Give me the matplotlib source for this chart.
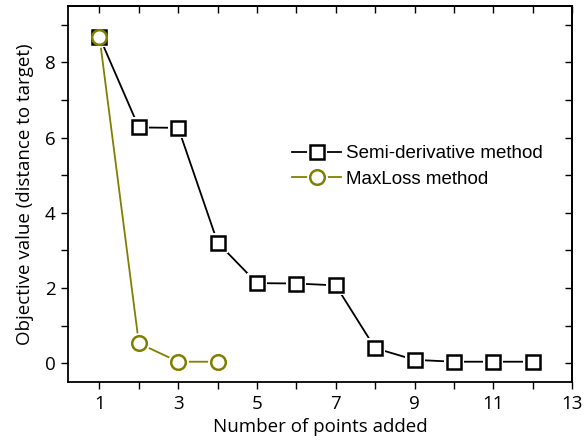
import matplotlib
matplotlib.use('Agg')
import matplotlib.pyplot as plt
from matplotlib.ticker import MultipleLocator
from matplotlib.lines import Line2D
from matplotlib.legend_handler import HandlerTuple

# Valores da função objetivo por número de pontos adicionados
pontos_semi = [1, 2, 3, 4, 5, 6, 7, 8, 9, 10, 11, 12]
valores_semi = [8.68, 6.27, 6.26, 3.21, 2.13, 2.12, 2.07, 0.40, 0.09, 0.04, 0.04, 0.04]

pontos_maxloss = [1, 2, 3, 4]
valores_maxloss = [8.68, 0.53, 0.04, 0.04]

rotulo_semi = 'Semi-derivative method'
rotulo_maxloss = 'MaxLoss method'

cor_semi = 'black'
cor_maxloss = '#808000'

fig = plt.figure(figsize=(5.84, 4.42), dpi=100)
ax = fig.add_axes([0.1164, 0.1357, 0.8631, 0.8507])

def serie(x, y, cor, marcador):
    # linha com pequena folga em volta dos marcadores
    ax.plot(x, y, '-', color=cor, lw=1.3, zorder=2)
    ax.plot(x, y, linestyle='none', marker=marcador, ms=15, mfc='white', mec='white', mew=0, zorder=3)
    ax.plot(x, y, linestyle='none', marker=marcador, ms=10.5, mfc='white', mec=cor, mew=1.8, zorder=4)

serie(pontos_semi, valores_semi, cor_semi, 's')
serie(pontos_maxloss, valores_maxloss, cor_maxloss, 'o')

ax.set_xlim(0.2, 13)
ax.set_ylim(-0.5, 9.5)
ax.set_xticks([1, 3, 5, 7, 9, 11, 13])
ax.xaxis.set_minor_locator(MultipleLocator(1))
ax.yaxis.set_major_locator(MultipleLocator(2))
ax.yaxis.set_minor_locator(MultipleLocator(1))

fonte_eixo = 'Open Sans'
ax.tick_params(which='both', direction='out', length=5, width=1, labelsize=13.5, pad=4,
               top=False, right=False)
for lab in ax.get_xticklabels() + ax.get_yticklabels():
    lab.set_fontfamily(fonte_eixo)

# ticks espelhados para dentro no topo e à direita
ax_top = ax.secondary_xaxis('top')
ax_top.set_xticks(range(1, 14))
ax_top.tick_params(direction='in', length=5, width=1, labeltop=False)
ax_right = ax.secondary_yaxis('right')
ax_right.set_yticks(range(0, 10))
ax_right.tick_params(direction='in', length=5, width=1, labelright=False)

for s in ax.spines.values():
    s.set_linewidth(1.3)
ax_top.spines['top'].set_linewidth(1.3)
ax_right.spines['right'].set_linewidth(1.3)

ax.set_xlabel('Number of points added', fontsize=13.5, family=fonte_eixo, labelpad=4)
ax.set_ylabel('Objective value (distance to target)', fontsize=13.5, family=fonte_eixo, labelpad=8)

def entrada(cor, marcador):
    linha = Line2D([], [], color=cor, lw=1.3)
    folga = Line2D([], [], ls='none', marker=marcador, ms=15, mfc='white', mec='white', mew=0)
    marca = Line2D([], [], ls='none', marker=marcador, ms=10.5, mfc='white', mec=cor, mew=1.8)
    return (linha, folga, marca)

ax.legend([entrada(cor_semi, 's'), entrada(cor_maxloss, 'o')], [rotulo_semi, rotulo_maxloss],
          handler_map={tuple: HandlerTuple(ndivide=1, pad=0)},
          loc='upper left', bbox_to_anchor=(0.43, 0.65),
          frameon=False, prop={'family': 'Liberation Sans', 'size': 13.5},
          handlelength=2.6, handletextpad=0.25, labelspacing=0.45, borderaxespad=0)

fig.savefig('out.png', dpi=100)
